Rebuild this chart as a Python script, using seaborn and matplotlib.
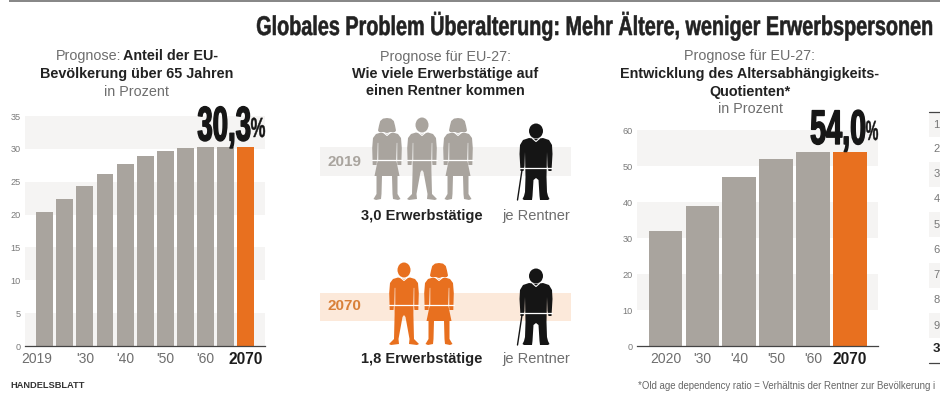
import matplotlib
matplotlib.use("Agg")
import matplotlib.pyplot as plt
import matplotlib.patheffects as pe
from matplotlib.patches import Ellipse
from matplotlib.transforms import Affine2D
import numpy as np
import pandas as pd
import seaborn as sns

# ---------- data ----------
share_years = ["2019", "'25", "'30", "'35", "'40", "'45", "'50", "'55", "'60", "'65", "2070"]
share_values = [20.4, 22.4, 24.4, 26.2, 27.7, 28.9, 29.7, 30.1, 30.3, 30.3, 30.3]
share_ticks = [35, 30, 25, 20, 15, 10, 5, 0]
dep_years = ["2020", "'30", "'40", "'50", "'60", "2070"]
dep_values = [32, 39, 47, 52, 54, 54]
dep_ticks = [60, 50, 40, 30, 20, 10, 0]
workers_labels = ["3,0 Erwerbstätige", "1,8 Erwerbstätige"]
icon_years = ["2019", "2070"]

GREY, ORANGE, DARK = "#A9A49E", "#E8701F", "#1C1C1C"
TXT_GREY, STRIPE = "#6E6E6E", "#F5F4F3"
W, H = 940, 400
REG = ["Liberation Sans", "DejaVu Sans"]

sns.set_theme(style="white")
plt.rcParams["font.family"] = REG
fig = plt.figure(figsize=(W / 100, H / 100), dpi=100, facecolor="white")


class Condense(pe.AbstractPathEffect):
    """Draw the glyphs condensed into a pixel span (no condensed font is installed)."""
    def __init__(self, left, right, bold=0.0):
        super().__init__()
        self.left, self.right, self.bold = left, right, bold

    def draw_path(self, renderer, gc, tpath, affine, rgbFace=None):
        e = tpath.transformed(affine).get_extents()
        sx = (self.right - self.left) / e.width
        t = affine + Affine2D().translate(-e.x0, 0).scale(sx, 1).translate(self.left, 0)
        g = renderer.new_gc()
        g.copy_properties(gc)
        g.set_linewidth(self.bold)
        g.set_foreground(rgbFace)
        renderer.draw_path(g, tpath, t, rgbFace)
        g.restore()


def bar_panel(box, years, values, ticks, xlim, width, stripes, xticks, ymax):
    l, t, r, b = box
    ax = fig.add_axes([l / W, 1 - b / H, (r - l) / W, (b - t) / H])
    df = pd.DataFrame({"year": years, "value": values})
    pal = {y: (ORANGE if y == "2070" else GREY) for y in years}
    for lo, hi in stripes:
        ax.axhspan(lo, hi, color=STRIPE, lw=0, zorder=0)
    sns.barplot(data=df, x="year", y="value", hue="year", palette=pal, legend=False,
                width=width, saturation=1, linewidth=0, ax=ax, zorder=2)
    ax.set_xlim(*xlim)
    ax.set_ylim(0, ymax)
    ax.set_xlabel("")
    ax.set_ylabel("")
    ax.set_yticks(ticks)
    ax.set_yticklabels([str(v) for v in ticks], fontsize=6.6, color="#7A7A7A")
    pos, labs = xticks
    ax.set_xticks(pos)
    ax.set_xticklabels(labs, fontsize=10, color=TXT_GREY)
    ax.get_xticklabels()[-1].set(fontweight="bold", color=DARK, fontsize=11.2)
    ax.tick_params(axis="both", length=0)
    ax.tick_params(axis="x", pad=4.5)
    ax.tick_params(axis="y", pad=3)
    for s in ("top", "left", "right"):
        ax.spines[s].set_visible(False)
    ax.spines["bottom"].set(color="#444444", linewidth=0.9)
    ax.set_facecolor("none")
    return ax


bar_panel((25, 116, 265, 346), share_years, share_values, share_ticks, (-0.98, 10.96), 0.84,
          [(0, 5), (10, 15), (20, 25), (30, 35)],
          ([-0.38, 2, 4, 6, 8, 10], ["2019", "'30", "'40", "'50", "'60", "2070"]), 35)
bar_panel((637, 130, 878, 346), dep_years, dep_values, dep_ticks, (-0.77, 5.76), 0.91,
          [(10, 20), (30, 40), (50, 60)],
          ([0, 1, 2, 3, 4, 5], dep_years), 60)

# overlay in pixel coordinates for titles and pictograms
px = fig.add_axes([0, 0, 1, 1], facecolor="none")
px.set_xlim(0, W)
px.set_ylim(H, 0)
px.axis("off")


def txt(x, y, s, size=10.4, weight="normal", color=TXT_GREY, ha="center", **kw):
    return px.text(x, y, s, fontsize=size, fontweight=weight, color=color, ha=ha,
                   va="center", **kw)


BLK = "#222222"
px.plot([9, 940], [0.7, 0.7], color="#858585", lw=1.4, solid_capstyle="butt")
txt(4, 26, "Globales Problem Überalterung: Mehr Ältere, weniger Erwerbspersonen",
    size=19.5, weight="bold", color=BLK, ha="left").set_path_effects([Condense(257, 932, 0.4)])

# left heading
txt(88.5, 56, "Prognose:")
txt(171, 56, "Anteil der EU-", weight="bold", color=BLK)
txt(137, 74, "Bevölkerung über 65 Jahren", weight="bold", color=BLK)
txt(137, 92, "in Prozent")
# middle heading
txt(445, 57, "Prognose für EU-27:")
txt(445, 74, "Wie viele Erwerbstätige auf", weight="bold", color=BLK)
txt(445, 91, "einen Rentner kommen", weight="bold", color=BLK)
# right heading
txt(750, 56, "Prognose für EU-27:")
txt(750, 74, "Entwicklung des Altersabhängigkeits-", weight="bold", color=BLK)
txt(750, 92, "Quotienten*", weight="bold", color=BLK)
txt(750, 109, "in Prozent")

# big callouts: (value, natural right edge, y, drawn span of number, drawn span of %, y of %)
for v, xn, y, span, pspan, yp in [(share_values[-1], 264, 128, (198, 250), (251, 265), 130),
                                  (dep_values[-1], 876, 131.5, (811, 865), (866, 878), 133)]:
    s = f"{v:.1f}".replace(".", ",")
    txt(xn, y, s, size=35, weight="bold", color="#161616", ha="right").set_path_effects([Condense(*span, 1.0)])
    txt(xn + 2, yp, "%", size=20, weight="bold", color="#161616", ha="left").set_path_effects([Condense(*pspan, 0.3)])

# footer
txt(10, 386, "HANDELSBLATT", size=6.7, weight="bold", color="#333333", ha="left")
txt(638, 386, "*Old age dependency ratio = Verhältnis der Rentner zur Bevölkerung i",
    size=6.95, color="#666666", ha="left", clip_on=True)


# pictograms
def mirror(half):
    half = np.array(half, float)
    other = half[::-1].copy()
    other[:, 0] *= -1
    return np.vstack([half, other])


MAN = [(0, 16), (6, 14.5), (11, 16), (14, 20), (14.8, 30), (14.3, 47), (10.5, 47), (10, 42), (9.4, 25),
       (9.4, 52), (10, 76), (15, 81), (13, 82), (5, 81), (5.5, 76), (1.5, 54), (0, 52)]
WOMAN = [(0, 16), (6, 14.5), (11, 16), (14, 20), (14.8, 30), (14.3, 47), (10.5, 47), (10, 42), (9.4, 25),
         (9.2, 42), (12.5, 58), (10.5, 58), (10.5, 76), (13.5, 81), (11, 82), (6, 81), (5.5, 76), (5, 58), (0, 58)]
HAIR = [(0, 0), (4, 0.6), (6.8, 3), (8, 7.5), (9, 12.5), (8, 14), (4, 14), (0, 15)]
OLD = [(0, 15), (7, 14), (13, 16), (16, 21), (16.5, 30), (15.5, 47), (12.5, 47), (11.5, 42), (11, 28),
       (10.5, 53), (11, 68), (12, 72), (13.5, 75), (12, 76), (4, 76), (3.5, 72), (2.5, 56), (0, 54)]


def collar(cx, top):
    px.plot([cx - 3.5, cx, cx + 3.5], [top + 14.5, top + 17.5, top + 14.5], color="white", lw=0.8, zorder=6)


def person(kind, cx, top, color):
    if kind == "m":
        px.add_patch(Ellipse((cx, top + 7), 13, 15, fc=color, lw=0, zorder=5))
        body = MAN
    else:
        px.fill(*(mirror(HAIR) + [cx, top]).T, fc=color, lw=0, zorder=5)
        body = WOMAN
    px.fill(*(mirror(body) + [cx, top]).T, fc=color, lw=0, zorder=5)
    collar(cx, top)
    for sx in (-1, 1):
        px.plot([cx + sx * 9.5] * 2, [top + 25, top + 42], color="white", lw=0.35, zorder=6)
    px.plot([cx - 15, cx + 15], [top + 42, top + 42], color="white", lw=0.9, zorder=6)


def retiree(cx, top):
    px.add_patch(Ellipse((cx, top + 7), 14, 15, fc="#151515", lw=0, zorder=5))
    px.fill(*(mirror(OLD) + [cx, top]).T, fc="#151515", lw=0, zorder=5)
    collar(cx, top)
    px.plot([cx - 14, cx - 18.5], [top + 46, top + 76], color="#151515", lw=1, zorder=5)
    px.plot([cx - 16, cx + 16], [top + 43.5, top + 43.5], color="white", lw=0.9, zorder=6)


rows = [dict(year=icon_years[0], band=(147, 176), bc="#F4F3F2", yc="#A9A49E", top=118, rtop=124, ty=216,
             people=[("w", 387), ("m", 422), ("w", 458)], col=GREY, ytext=161.5),
        dict(year=icon_years[1], band=(293, 321), bc="#FCE9DA", yc="#D98038", top=263, rtop=269, ty=359,
             people=[("m", 404), ("w", 439)], col=ORANGE, ytext=306)]
for row, lab in zip(rows, workers_labels):
    px.fill_between([320, 571], *row["band"], color=row["bc"], lw=0, zorder=1)
    txt(344, row["ytext"], row["year"], size=11, weight="bold", color=row["yc"])
    for kind, cx in row["people"]:
        person(kind, cx, row["top"], row["col"])
    retiree(536, row["rtop"])
    txt(422, row["ty"], lab, size=10.5, weight="bold", color=BLK)
    txt(536.5, row["ty"], "je Rentner", size=10.5)

# table at the right edge
px.plot([929, 940], [112, 112], color="#444444", lw=0.9)
px.plot([929, 940], [363, 363], color="#444444", lw=0.9)
for y0, y1 in [(113, 137), (162, 187), (212, 237), (263, 288), (313, 338)]:
    px.fill_between([929, 940], y0, y1, color=STRIPE, lw=0, zorder=1)
for i, y in enumerate([125, 149, 174, 199, 225, 250, 275, 300, 326]):
    txt(933.5, y, str(i + 1), size=8, color="#777777", ha="left")
txt(933, 349, "3", size=9.5, weight="bold", color=BLK, ha="left")

fig.savefig("out.png", dpi=100, facecolor="white")
